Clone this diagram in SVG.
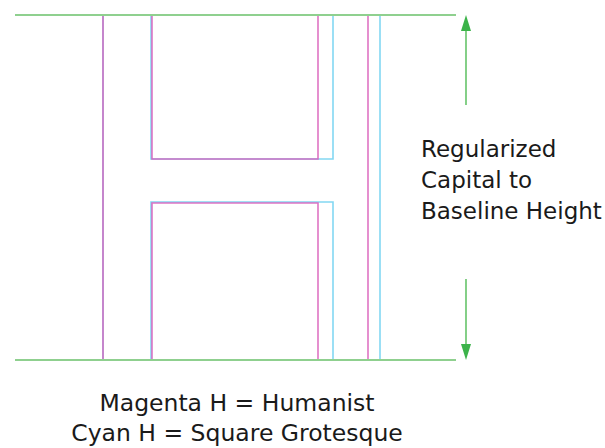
<svg xmlns="http://www.w3.org/2000/svg" width="605" height="448" viewBox="0 0 605 448">
<defs>
<style>
.guide{stroke:#8fd08f;stroke-width:2;fill:none}
.arr{stroke:#66c46a;stroke-width:1.6;fill:none}
.mag{stroke:#d85cb8;stroke-width:1.6;fill:none;stroke-opacity:0.85}
.cyan{stroke:#6cd0f0;stroke-width:1.6;fill:none;stroke-opacity:0.85}
.t{font-family:"DejaVu Sans","Noto Sans",sans-serif;font-size:23px;fill:#1a1a1a}
.c{font-size:23.5px}
</style>
</defs>
<g id="cyan-h">
<polygon class="cyan" points="103,15 151,15 151,159 333,159 333,15 380,15 380,360 333,360 333,202 151,202 151,360 103,360"/>
</g>
<g id="magenta-h">
<polygon class="mag" points="103,15 152,15 152,159 318,159 318,15 368,15 368,360 318,360 318,203 152,203 152,360 103,360"/>
</g>
<g id="connectors">
<line class="guide" x1="15" y1="15" x2="456" y2="15"/>
<line class="guide" x1="15" y1="360" x2="456" y2="360"/>
<path class="arr" d="M466,105 L466,28"/>
<polygon points="466,15 461,31 471,31" fill="#3cb34a"/>
<path class="arr" d="M466,279 L466,346"/>
<polygon points="466,360 461,344 471,344" fill="#3cb34a"/>
</g>
<g id="label-height">
<text class="t" x="421" y="157">Regularized</text>
<text class="t" x="421" y="188">Capital to</text>
<text class="t" x="421" y="219">Baseline Height</text>
</g>
<g id="caption">
<text class="t c" x="237" y="411" text-anchor="middle">Magenta H = Humanist</text>
<text class="t c" x="237" y="441" text-anchor="middle">Cyan H = Square Grotesque</text>
</g>
</svg>
